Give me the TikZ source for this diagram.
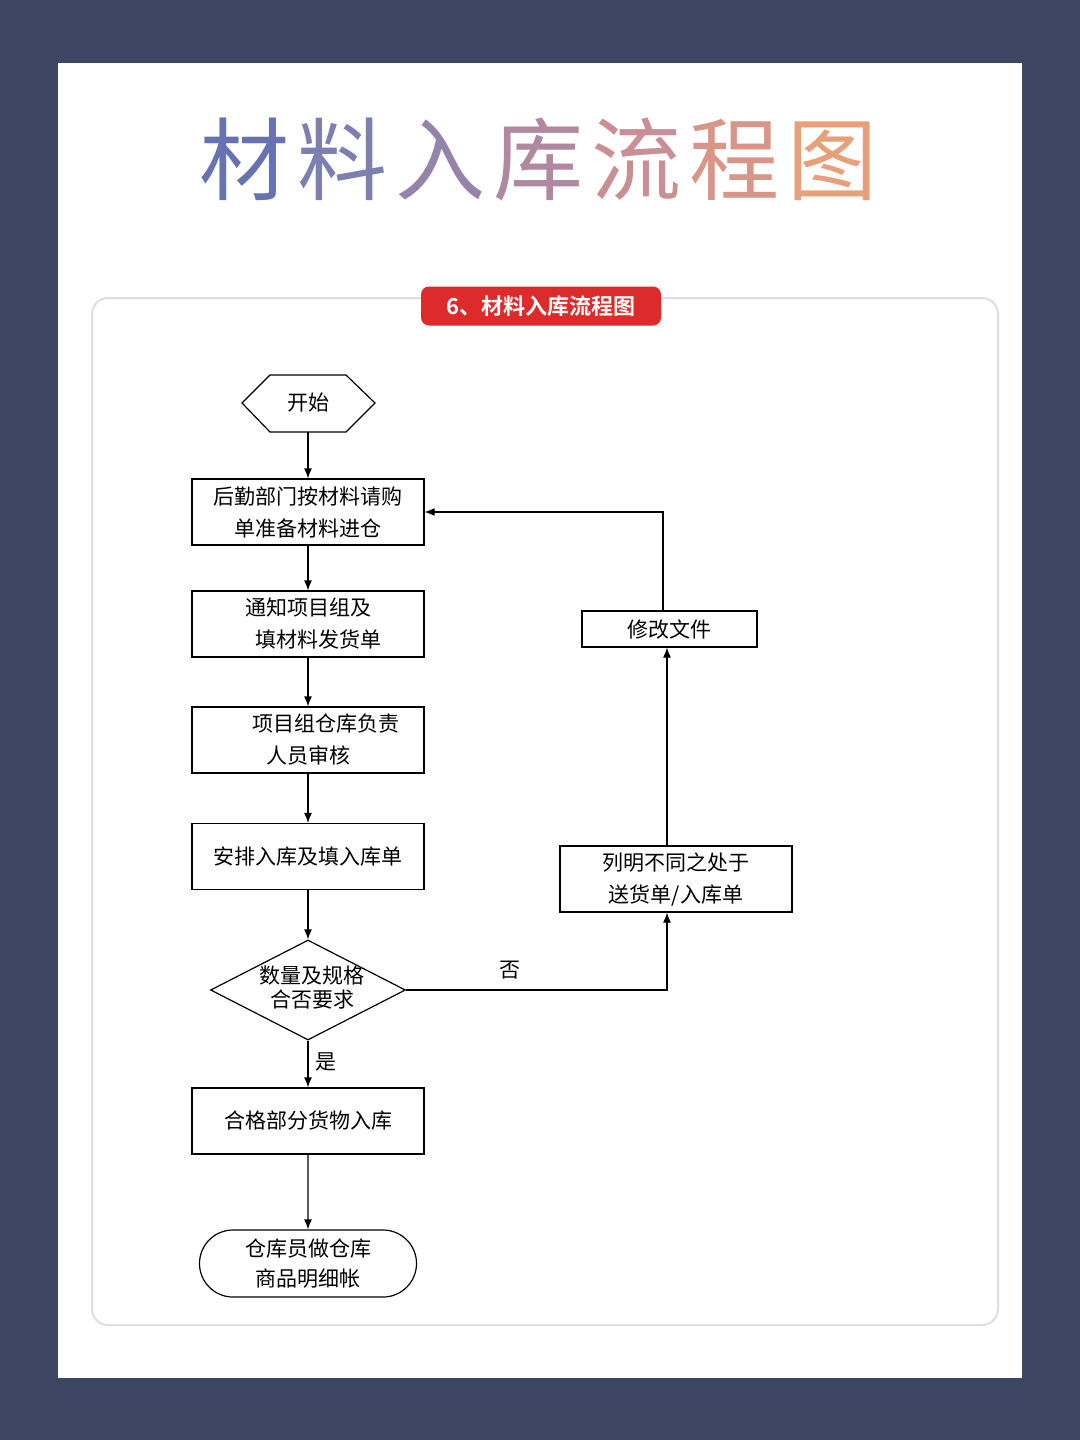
\documentclass[tikz,border=0pt]{standalone}
\usepackage{fontspec}
\setmainfont{Noto Sans CJK SC}
\newfontfamily\cjk{Noto Sans CJK SC}
\newfontfamily\cjkb{Noto Sans CJK SC Bold}
\usetikzlibrary{shapes.geometric,shapes.misc,arrows.meta}
\definecolor{navy}{HTML}{3D4663}
\definecolor{redl}{HTML}{DD2A2A}
\definecolor{ta}{HTML}{6673B0}\definecolor{tb}{HTML}{7C7FAF}\definecolor{tc}{HTML}{9584A9}
\definecolor{td}{HTML}{B0889F}\definecolor{te}{HTML}{C98F94}\definecolor{tf}{HTML}{DA9589}\definecolor{tg}{HTML}{E8A07A}
\tikzset{
 box/.style={draw=black, line width=0.6pt, minimum width=116pt, minimum height=33pt, align=center, font=\cjk\fontsize{10.5}{16}\selectfont, inner sep=0pt},
 arr/.style={-{Latex[length=5pt,width=4pt]}, line width=0.6pt},
 lbl/.style={font=\cjk\fontsize{10.5}{14}\selectfont}
}
\begin{document}
\begin{tikzpicture}[x=0.5pt,y=-0.5pt]
\useasboundingbox (0,0) rectangle (1080,1440);
\fill[navy] (0,0) rectangle (1080,1440);
\fill[white] (58,63) rectangle (1022,1378);
\draw[gray!25, line width=1pt, rounded corners=8pt, fill=white] (92,298) rectangle (998,1325);
\node[fill=redl, rounded corners=4pt, minimum width=120pt, minimum height=19.5pt, text=white, font=\cjkb\fontsize{11}{13}\selectfont] (tag) at (541,306) {6、材料入库流程图};
\node[font=\cjk\fontsize{45}{50}\selectfont, inner sep=0pt] (title) at (538,160) {\textcolor{ta}{材}\hspace{4pt}\textcolor{tb}{料}\hspace{4pt}\textcolor{tc}{入}\hspace{4pt}\textcolor{td}{库}\hspace{4pt}\textcolor{te}{流}\hspace{4pt}\textcolor{tf}{程}\hspace{4pt}\textcolor{tg}{图}};
% nodes
\draw[line width=0.6pt] (242,403) -- (270,375) -- (346,375) -- (375,403) -- (346,432) -- (270,432) -- cycle;
\node[lbl] (start) at (308,403) {开始};
\coordinate (startb) at (308,432);
\node[box] (b1) at (308,512) {后勤部门按材料请购\\单准备材料进仓};
\node[box] (b2) at (308,624) {通知项目组及\\\hspace{10pt}填材料发货单};
\node[box] (b3) at (308,740) {\hspace{18pt}项目组仓库负责\\人员审核};
\node[box] (b4) at (308,856.5) {安排入库及填入库单};
\node[draw, line width=0.6pt, diamond, minimum width=97.5pt, minimum height=50pt, inner sep=0pt, aspect=2] (d) at (308,990) {};
\node[lbl, align=center, font=\cjk\fontsize{10.5}{12}\selectfont] at (312,988) {数量及规格\\合否要求};
\node[box] (b5) at (308,1121) {合格部分货物入库};
\node[draw, line width=0.6pt, rounded rectangle, minimum width=108.5pt, minimum height=33.5pt, align=center, font=\cjk\fontsize{10.5}{15}\selectfont, inner sep=0pt] (t) at (308,1263.5) {仓库员做仓库\\商品明细帐};
\node[box] (ra) at (676,879) {列明不同之处于\\送货单/入库单};
\node[box, minimum width=87.5pt, minimum height=18pt] (rb) at (669.5,629) {修改文件};
\coordinate (c1) at (667,990);
\coordinate (c2) at (663,512);
% edges
\draw[arr] (startb) -- (b1.north);
\draw[arr] (b1) -- (b2);
\draw[arr] (b2) -- (b3);
\draw[arr] (b3) -- (b4);
\draw[arr] (b4) -- (d.north);
\draw[arr] (d.south) -- node[lbl, right, pos=0.45] {是} (b5);
\draw[arr] (b5) -- (t);
\draw[arr] (d.east) -- (c1) -- (ra.south -| c1);
\node[lbl] at (510,970) {否};
\draw[arr] (ra.north -| c1) -- (rb.south -| c1);
\draw[arr] (rb.north -| c2) -- (c2) -- (b1.east);
\end{tikzpicture}
\end{document}
